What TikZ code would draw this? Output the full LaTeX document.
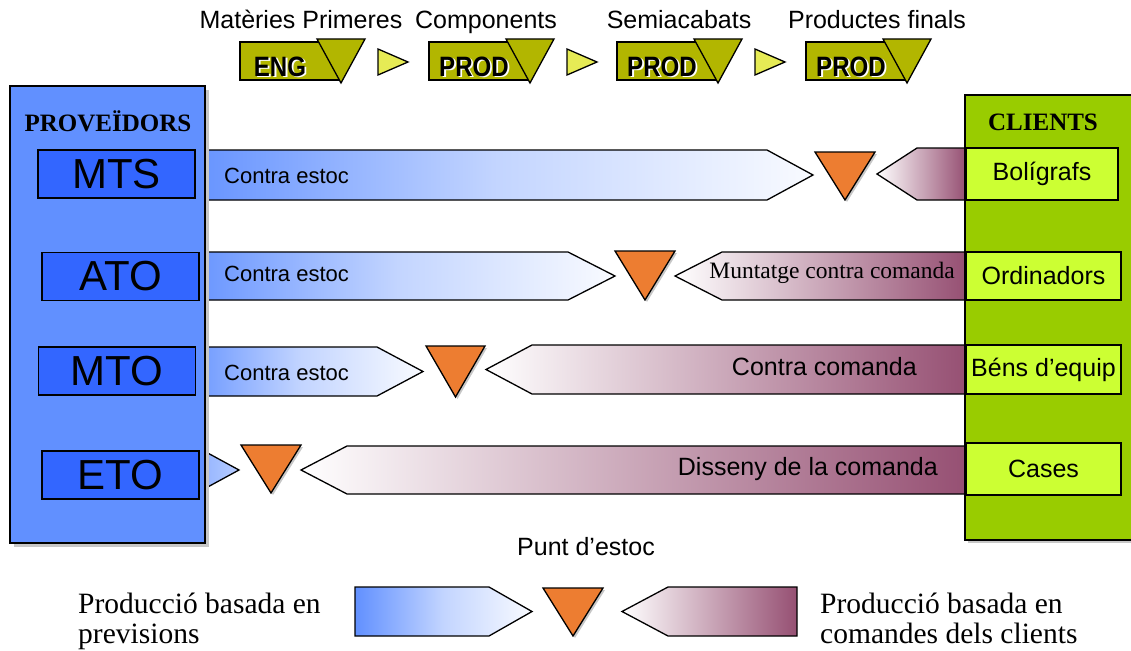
\documentclass[tikz,border=0pt]{standalone}
\usepackage{fontspec}
\setmainfont{Liberation Serif}
\setsansfont{Liberation Sans}
\usetikzlibrary{calc}

\definecolor{provblue}{RGB}{97,144,255}
\definecolor{provinner}{RGB}{51,102,255}
\definecolor{clientgreen}{RGB}{153,204,0}
\definecolor{clientinner}{RGB}{204,255,51}
\definecolor{stockorange}{RGB}{237,125,49}
\definecolor{orderpurple}{RGB}{150,80,115}
\definecolor{stageolive}{RGB}{178,182,0}
\definecolor{stepyellow}{RGB}{230,235,85}

% forward band (forecast driven): style, x start, x end of body, x tip, y top, y bottom
\newcommand\fwdband[6]{%
  \path[#1] (#2,#5) -- (#3,#5) -- (#4,{(#5+#6)/2}) -- (#3,#6) -- (#2,#6) -- cycle;}
% backward band (order driven): style, x tip, x start of body, x end, y top, y bottom
\newcommand\backband[6]{%
  \path[#1] (#2,{(#5+#6)/2}) -- (#3,#5) -- (#4,#5) -- (#4,#6) -- (#3,#6) -- cycle;}
% stock point: left x, right x, top y, tip y
\newcommand\stockpoint[4]{%
  \path[fill=black!22, shift={(2,2)}] (#1,#3) -- (#2,#3) -- ({(#1+#2)/2},#4) -- cycle;
  \path[outline, fill=stockorange] (#1,#3) -- (#2,#3) -- ({(#1+#2)/2},#4) -- cycle;}
% production stage marker: left x, label, node name, label centre x
\newcommand\stagebox[4]{%
  \path[outline, fill=stageolive] (#1,42) rectangle ({#1+100},80);
  \path[outline, fill=stageolive] ({#1+77},39) -- ({#1+125},39) -- ({#1+101},83) -- cycle;
  \node[stagetext, text=white] (#3s) at ({#4+1.8},68.3) {\scalebox{0.86}[1]{#2}};
  \node[stagetext] (#3) at (#4,66.5) {\scalebox{0.86}[1]{#2}};}
% small step arrow between stages: left x
\newcommand\steparrow[1]{%
  \path[outline, fill=stepyellow] (#1,49) -- ({#1+30},62) -- (#1,75) -- cycle;}

\begin{document}
\begin{tikzpicture}[x=1pt, y=-1pt,
  outline/.style={draw=black, line width=1.3pt, line join=miter},
  forecast/.style={outline, left color=provblue, right color=white!96!provblue,
    middle color=provblue!38!white},
  orderband/.style={outline, left color=white, right color=orderpurple},
  sidehead/.style={font=\fontsize{25}{30}\selectfont\bfseries},
  typebox/.style={draw=black, line width=1.3pt, fill=provinner, inner sep=0pt,
    minimum width=157, minimum height=48, font=\fontsize{42}{48}\selectfont\sffamily},
  clientbox/.style={draw=black, line width=1.3pt, fill=clientinner, inner sep=0pt,
    minimum height=50, font=\fontsize{25}{30}\selectfont\sffamily},
  stagetext/.style={font=\fontsize{28}{32}\selectfont\sffamily\bfseries, inner sep=0pt},
  toplabel/.style={font=\fontsize{25}{30}\selectfont\sffamily, inner sep=0pt, anchor=base},
  bandtext/.style={font=\fontsize{22}{26}\selectfont\sffamily, inner sep=0pt},
  ordertext/.style={font=\fontsize{25}{30}\selectfont\sffamily, inner sep=0pt},
  legendtext/.style={font=\fontsize{29.5}{30}\selectfont, align=left, inner sep=0pt}
]
\useasboundingbox (0,0) rectangle (1131,650);

% ---- production stages along the top
\node[toplabel] (lraw)  at (301,29) {Matèries Primeres};
\node[toplabel] (lcomp) at (486,29) {Components};
\node[toplabel] (lsemi) at (679,29) {Semiacabats};
\node[toplabel] (lfin)  at (877,29) {Productes finals};
\stagebox{240}{ENG}{eng}{280}
\steparrow{378}
\stagebox{429}{PROD}{prodA}{474}
\steparrow{567}
\stagebox{617}{PROD}{prodB}{662}
\steparrow{755}
\stagebox{806}{PROD}{prodC}{851}

% ---- MTS row
\fwdband{forecast}{180}{767}{813}{150}{200}
\stockpoint{815}{875}{152}{200}
\backband{orderband}{877}{917}{966}{148}{200}
\node[bandtext, anchor=west] (mtsstock) at (224,176) {Contra estoc};

% ---- ATO row
\fwdband{forecast}{180}{568}{615}{252}{300}
\stockpoint{615}{675}{251}{300}
\backband{orderband}{675}{722}{966}{252}{300}
\node[bandtext, anchor=west] (atostock) at (224,274) {Contra estoc};
\node[font=\fontsize{23.5}{28}\selectfont, inner sep=0pt, anchor=east] (atoorder) at (955,273) {Muntatge contra comanda};

% ---- MTO row
\fwdband{forecast}{180}{377}{423}{347}{396}
\stockpoint{426}{485}{346}{397}
\backband{orderband}{486}{532}{966}{345}{394}
\node[bandtext, anchor=west] (mtostock) at (224,373) {Contra estoc};
\node[ordertext, anchor=east] (mtoorder) at (917,367) {Contra comanda};

% ---- ETO row
\fwdband{outline, left color=provblue, right color=provblue!45!white}{150}{193}{239}{445}{495}
\stockpoint{241}{301}{445}{493}
\backband{orderband}{301}{347}{966}{446}{494}
\node[ordertext, anchor=east] (etoorder) at (938,469) {Disseny de la comanda};

% ---- suppliers column
\fill[black!22] (14,90) rectangle (209,547);
\node[draw=black, line width=1.3pt, fill=provblue, inner sep=0pt, minimum width=195,
  minimum height=457] (prov) at (107.5,314.5) {};
\node[sidehead] (provhead) at (108,121) {PROVEÏDORS};
\node[typebox] (mts) at (116.5,174) {MTS};
\node[typebox] (ato) at (120.5,276.5) {ATO};
\node[typebox] (mto) at (117,371) {MTO};
\node[typebox] (eto) at (120.5,475) {ETO};

% ---- customers column
\fill[black!22] (968,98) rectangle (1140,543);
\path[draw=black, line width=1.3pt, fill=clientgreen] (965,95) rectangle (1140,540);
\node[sidehead] (clihead) at (1043,122) {CLIENTS};
\node[clientbox, minimum width=152, minimum height=52] (pens) at (1042,174) {Bolígrafs};
\node[clientbox, minimum width=155, minimum height=48] (pcs) at (1043.5,276) {Ordinadors};
\node[clientbox, minimum width=155, minimum height=49] (equip) at (1043.5,369.5) {Béns d’equip};
\node[clientbox, minimum width=155, minimum height=52] (houses) at (1043.5,469) {Cases};

% ---- legend
\node[ordertext] (legstock) at (586,547) {Punt d’estoc};
\fwdband{forecast}{355}{489}{532}{587}{636}
\stockpoint{543}{603}{588}{636}
\backband{orderband}{622}{668}{797}{587}{636}
\node[legendtext, anchor=west] (legfc) at (78,621) {Producció basada en\\previsions};
\node[legendtext, anchor=west] (legord) at (820,618) {Producció basada en\\comandes dels clients};
\end{tikzpicture}
\end{document}
